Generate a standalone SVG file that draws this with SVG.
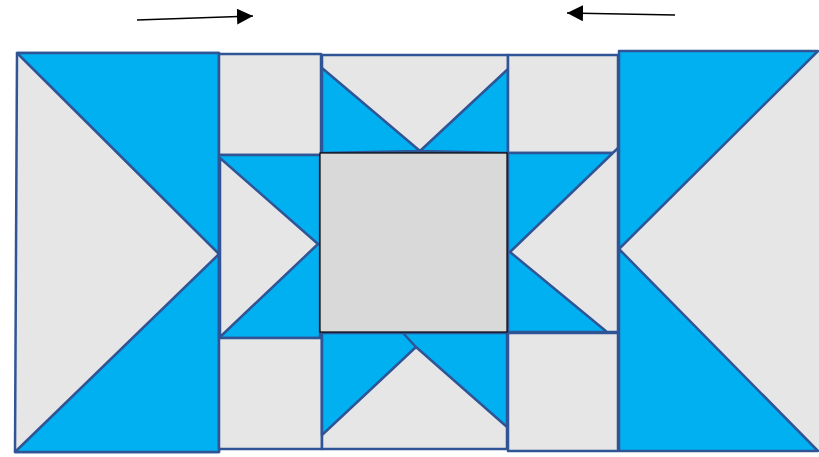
<svg xmlns="http://www.w3.org/2000/svg" width="819" height="457" viewBox="0 0 819 457">
<defs>
<style>
.g{fill:#E6E6E6;stroke:#2F5597;stroke-width:2.5;stroke-linejoin:round}
.b{fill:#00B0F0;stroke:#2F5597;stroke-width:2.5;stroke-linejoin:round}
.c{fill:#D9D9D9;stroke:#000;stroke-width:1.2}
.l{fill:none;stroke:#2F5597;stroke-width:2.5}
.a{fill:none;stroke:#000;stroke-width:1.6}
</style>
<marker id="ah" viewBox="0 0 10 10" refX="9" refY="5" markerWidth="10" markerHeight="10" markerUnits="userSpaceOnUse" orient="auto">
<path d="M0,0 L10,5 L0,10 Z" fill="#000"/>
</marker>
<marker id="ah2" viewBox="0 0 10 10" refX="10" refY="5" markerWidth="16" markerHeight="16" markerUnits="userSpaceOnUse" orient="auto">
<path d="M0,0 L10,5 L0,10 Z" fill="#000"/>
</marker>
</defs>
<rect width="819" height="457" fill="#fff"/>

<g id="left-block">
<polygon class="g" points="17,53 219,53 219,452 15,452"/>
<polygon class="b" points="17,53 219,53 219,254"/>
<polygon class="b" points="219,254 219,452 15,452"/>
</g>

<g id="top-left-square">
<rect class="g" x="219" y="54" width="102" height="101"/>
</g>
<g id="middle-left-block">
<rect class="b" x="219" y="155" width="101" height="183"/>
<polygon class="g" points="220,158 318,244 220,337"/>
</g>
<g id="bottom-left-square">
<rect class="g" x="219" y="338" width="103" height="111"/>
</g>

<g id="top-middle-block">
<rect class="g" x="322" y="55" width="186" height="98"/>
<polygon class="b" points="322,68 420,151 322,153"/>
<polygon class="b" points="508,69 420,151 508,153"/>
</g>

<g id="bottom-middle-block">
<rect class="g" x="322" y="333" width="185" height="116"/>
<polygon class="b" points="322,333 507,333 507,427 416,347 322,435"/>
<line class="l" x1="403" y1="333" x2="416" y2="347"/>
</g>

<g id="top-right-square">
<rect class="g" x="508" y="55" width="110" height="98"/>
</g>
<g id="middle-right-block">
<rect class="b" x="508" y="153" width="110" height="179"/>
<polygon class="g" points="618,148 510,252 607,332 618,332"/>
</g>
<g id="bottom-right-square">
<rect class="g" x="508" y="333" width="110" height="118"/>
</g>

<g id="center-square">
<rect class="c" x="320" y="153" width="187" height="179"/>
</g>

<g id="right-block">
<rect x="619" y="51" width="200" height="400" fill="#E6E6E6"/>
<polygon class="b" points="619,51 818,51 619,249"/>
<polygon class="b" points="619,249 619,451 818,451"/>
</g>

<g id="connectors">
<line class="a" x1="137" y1="20" x2="253" y2="16" marker-end="url(#ah2)"/>
<line class="a" x1="675" y1="15" x2="567" y2="13" marker-end="url(#ah2)"/>
</g>
</svg>
